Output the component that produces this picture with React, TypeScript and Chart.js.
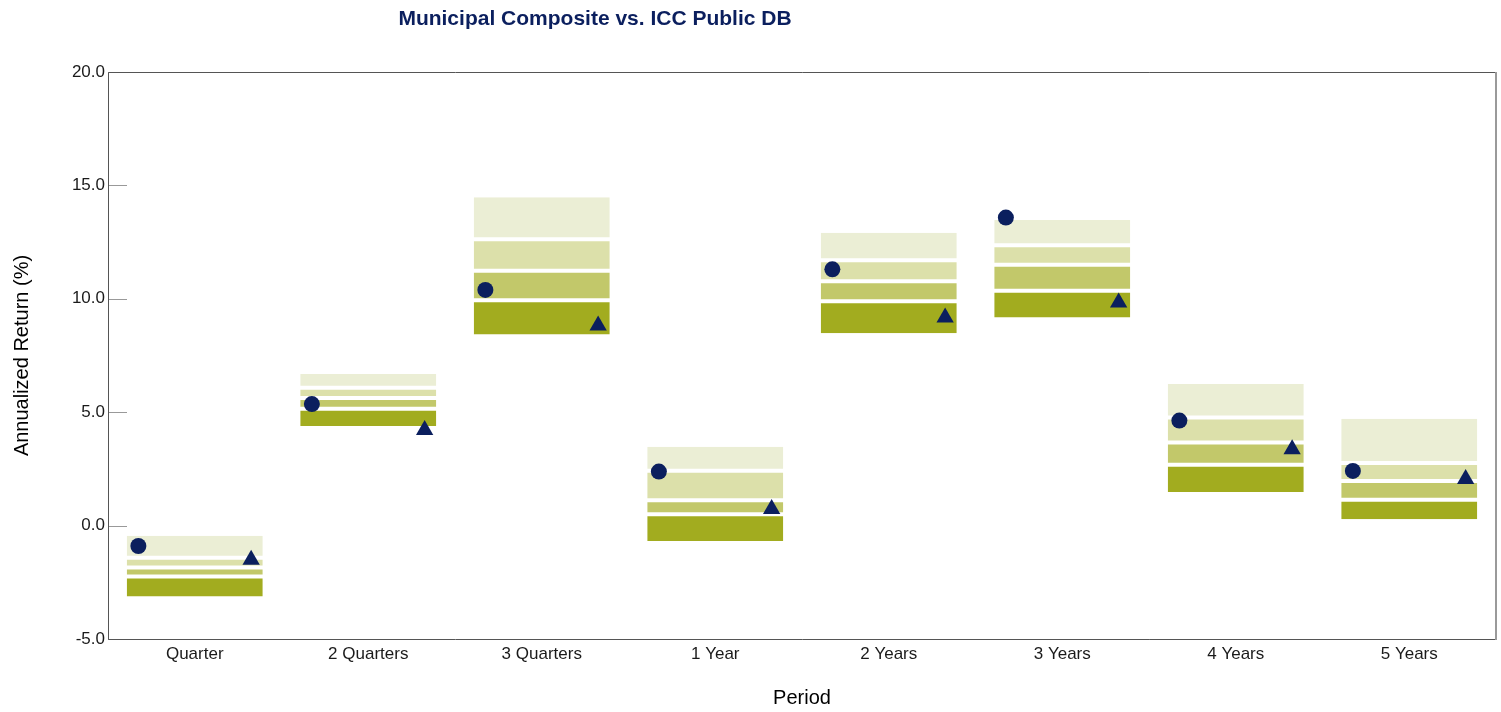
import React, { useEffect, useRef } from "react";
import { Chart, registerables } from "chart.js";

Chart.register(...registerables);

const categories = ["Quarter", "2 Quarters", "3 Quarters", "1 Year", "2 Years", "3 Years", "4 Years", "5 Years"];
const pct5 = [-0.45, 6.68, 14.48, 3.48, 12.91, 13.47, 6.24, 4.71];
const pct25 = [-1.42, 6.08, 12.63, 2.42, 11.7, 12.36, 4.77, 2.76];
const median = [-1.85, 5.63, 11.24, 1.12, 10.77, 11.5, 3.66, 1.97];
const pct75 = [-2.24, 5.15, 9.94, 0.5, 9.89, 10.35, 2.68, 1.14];
const pct95 = [-3.13, 4.39, 8.43, -0.68, 8.48, 9.17, 1.48, 0.28];
const composite = [-0.9, 5.36, 10.39, 2.38, 11.3, 13.58, 4.63, 2.41];
const iccPublicDB = [-1.51, 4.21, 8.82, 0.73, 9.18, 9.84, 3.37, 2.05];
const yTicks = [-5, 0, 5, 10, 15, 20];

const FONT = '"Liberation Sans", Arial, sans-serif';
const NAVY = "#0B1F5E";

const frame = {
  id: "frame",
  afterDatasetsDraw(chart: any) {
    const { ctx, chartArea: a, scales } = chart;
    ctx.save();
    ctx.strokeStyle = "#999999";
    ctx.lineWidth = 1;
    for (const t of yTicks) {
      const y = Math.round(scales.y.getPixelForValue(t)) + 0.5;
      ctx.beginPath();
      ctx.moveTo(a.left, y);
      ctx.lineTo(a.left + 19, y);
      ctx.stroke();
    }
    ctx.strokeStyle = "#555555";
    ctx.beginPath();
    ctx.moveTo(a.right, a.top + 0.5);
    ctx.lineTo(a.left + 0.5, a.top + 0.5);
    ctx.lineTo(a.left + 0.5, a.bottom + 0.5);
    ctx.lineTo(a.right, a.bottom + 0.5);
    ctx.stroke();
    ctx.strokeStyle = "#9a9a9a";
    ctx.lineWidth = 2;
    ctx.beginPath();
    ctx.moveTo(a.right, a.top);
    ctx.lineTo(a.right, a.bottom + 1);
    ctx.stroke();
    ctx.fillStyle = NAVY;
    ctx.font = `bold 21px ${FONT}`;
    ctx.textAlign = "center";
    ctx.textBaseline = "middle";
    ctx.fillText("Municipal Composite vs. ICC Public DB", 595, 19);
    ctx.restore();
  },
};

export default function App() {
  const ref = useRef<HTMLCanvasElement>(null);
  useEffect(() => {
    const band = (lo: number[], hi: number[], color: string, bw: any) => ({
      type: "bar" as const,
      data: lo.map((v, i) => [v, hi[i]]),
      backgroundColor: color,
      borderColor: "#ffffff",
      borderWidth: bw,
      borderSkipped: false,
      grouped: false,
      barPercentage: 0.784,
      categoryPercentage: 1,
      xAxisID: "x",
      order: 2,
    });
    const chart = new Chart(ref.current!, {
      data: {
        labels: categories,
        datasets: [
          band(pct95, pct75, "#A2AC1F", { top: 2, bottom: 0, left: 0, right: 0 }),
          band(pct75, median, "#C2C86A", { top: 2, bottom: 2, left: 0, right: 0 }),
          band(median, pct25, "#DCE0AA", { top: 2, bottom: 2, left: 0, right: 0 }),
          band(pct25, pct5, "#EBEED5", { top: 0, bottom: 2, left: 0, right: 0 }),
          {
            type: "scatter" as const,
            data: composite.map((v, i) => ({ x: i - 0.325, y: v })),
            xAxisID: "x2",
            pointStyle: "circle",
            pointRadius: 8,
            backgroundColor: NAVY,
            borderColor: NAVY,
            borderWidth: 0,
            order: 1,
          },
          {
            type: "scatter" as const,
            data: iccPublicDB.map((v, i) => ({ x: i + 0.325, y: v })),
            xAxisID: "x2",
            pointStyle: "triangle",
            pointRadius: 10,
            backgroundColor: NAVY,
            borderColor: NAVY,
            borderWidth: 0,
            order: 0,
          },
        ] as any,
      },
      options: {
        responsive: false,
        animation: false,
        layout: { autoPadding: false, padding: { left: 0, top: 72, right: 5, bottom: 0 } },
        plugins: { legend: { display: false }, tooltip: { enabled: false }, title: { display: false } },
        scales: {
          x: {
            type: "category",
            grid: { display: false, drawTicks: false },
            border: { display: false },
            ticks: { color: "#1a1a1a", font: { family: FONT, size: 17 }, padding: 5, maxRotation: 0 },
            title: { display: true, text: "Period", color: "#000", font: { family: FONT, size: 20 }, padding: { top: 0, bottom: 2 } },
            afterFit: (s: any) => {
              s.height = 73;
              s.paddingLeft = 0;
              s.paddingRight = 0;
            },
          },
          x2: { type: "linear", display: false, min: -0.5, max: 7.5 },
          y: {
            min: -5,
            max: 20,
            grid: { display: false, drawTicks: false },
            border: { display: false },
            ticks: {
              stepSize: 5,
              color: "#1a1a1a",
              font: { family: FONT, size: 17 },
              padding: 3,
              callback: (v: any) => Number(v).toFixed(1),
            },
            title: { display: true, text: "Annualized Return (%)", color: "#000", font: { family: FONT, size: 20 }, padding: { top: 10, bottom: 0 } },
            afterFit: (s: any) => {
              s.width = 108;
              s.paddingTop = 0;
              s.paddingBottom = 0;
            },
          },
        },
      } as any,
      plugins: [frame],
    });
    return () => chart.destroy();
  }, []);
  return (
    <div style={{ position: "fixed", left: 0, top: 0, width: 1501, height: 712, background: "#fff" }}>
      <canvas ref={ref} width={1501} height={712} />
    </div>
  );
}
